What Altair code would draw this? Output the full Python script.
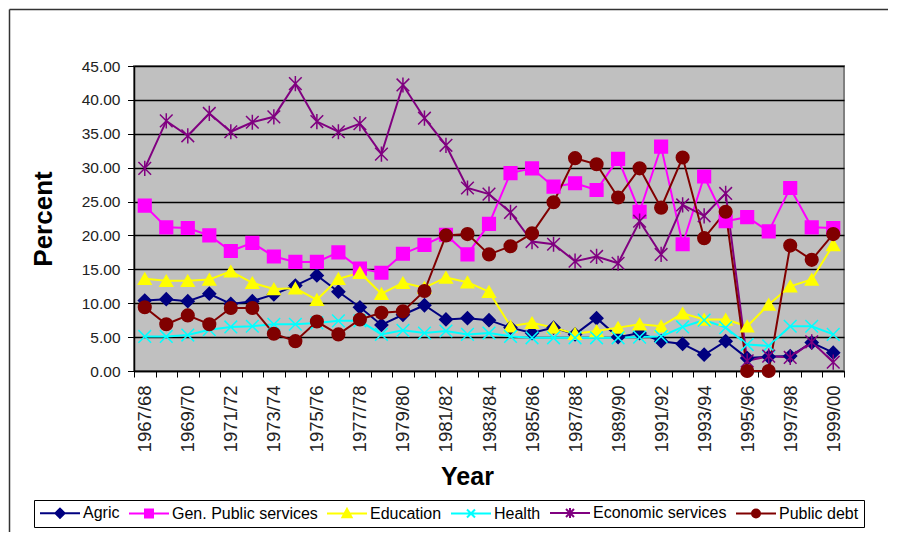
import altair as alt
import pandas as pd

years = ["1967/68", "1968/69", "1969/70", "1970/71", "1971/72", "1972/73", "1973/74",
         "1974/75", "1975/76", "1976/77", "1977/78", "1978/79", "1979/80", "1980/81",
         "1981/82", "1982/83", "1983/84", "1984/85", "1985/86", "1986/87", "1987/88",
         "1988/89", "1989/90", "1990/91", "1991/92", "1992/93", "1993/94", "1994/95",
         "1995/96", "1996/97", "1997/98", "1998/99", "1999/00"]

agric = [10.4, 10.6, 10.3, 11.4, 9.9, 10.3, 11.3, 12.6, 14.1, 11.7, 9.4, 6.8, 8.3, 9.7,
         7.6, 7.8, 7.5, 6.4, 5.6, 6.4, 5.4, 7.8, 5.0, 5.6, 4.4, 4.0, 2.4, 4.4, 1.9, 2.1,
         2.2, 4.2, 2.7]
gen_public = [24.4, 21.2, 21.1, 20.0, 17.7, 18.9, 16.9, 16.1, 16.1, 17.5, 15.1, 14.5,
              17.3, 18.6, 20.1, 17.2, 21.7, 29.2, 29.9, 27.2, 27.7, 26.7, 31.3, 23.5,
              33.1, 18.7, 28.7, 22.1, 22.7, 20.6, 27.0, 21.2, 21.1]
education = [13.6, 13.3, 13.3, 13.5, 14.7, 13.0, 12.1, 12.2, 10.5, 13.6, 14.5, 11.4,
             13.0, 12.3, 13.8, 13.1, 11.7, 6.6, 7.1, 6.4, 5.5, 5.9, 6.4, 6.9, 6.6, 8.5,
             7.6, 7.6, 6.6, 9.8, 12.5, 13.5, 18.6]
health = [5.1, 5.1, 5.3, 6.1, 6.5, 6.6, 6.9, 6.9, 7.1, 7.4, 7.4, 5.4, 6.0, 5.6, 5.9,
          5.4, 5.6, 5.1, 4.9, 4.9, 4.9, 4.9, 4.9, 5.0, 5.1, 6.5, 7.5, 6.4, 3.9, 3.7, 6.6,
          6.6, 5.4]
economic = [29.9, 36.9, 34.7, 38.0, 35.3, 36.7, 37.5, 42.4, 36.8, 35.3, 36.5, 32.0,
            42.2, 37.3, 33.3, 27.0, 26.1, 23.4, 19.1, 18.7, 16.2, 16.9, 15.9, 22.1,
            17.2, 24.5, 22.9, 26.2, 1.5, 2.2, 2.0, 4.3, 1.3]
public_debt = [9.4, 6.9, 8.2, 6.9, 9.3, 9.3, 5.5, 4.4, 7.3, 5.4, 7.6, 8.6, 8.8, 11.8,
               20.0, 20.2, 17.2, 18.4, 20.3, 24.9, 31.4, 30.5, 25.6, 29.9, 24.1, 31.5,
               19.6, 23.5, 0.0, 0.0, 18.5, 16.4, 20.2]

series_names = ["Agric", "Gen. Public services", "Education", "Health",
                "Economic services", "Public debt"]
series_values = [agric, gen_public, education, health, economic, public_debt]
colors = ["#000080", "#FF00FF", "#FFFF00", "#00FFFF", "#800080", "#800000"]

x_path = "M-1,-1L1,1M-1,1L1,-1"
star_path = "M-1,-1L1,1M-1,1L1,-1M0,-1.2L0,1.2"
marker_shapes = ["diamond", "square", "triangle-up", x_path, star_path, "circle"]

legend_line = "M-5,0L5,0"
legend_markers = [
    "M0,-1.15L1.15,0L0,1.15L-1.15,0Z",
    "M-1,-1L1,-1L1,1L-1,1Z",
    "M0,-1.15L1.15,0.95L-1.15,0.95Z",
    "M-1,-1L1,1M-1,1L1,-1",
    "M-1,-1L1,1M-1,1L1,-1M0,-1.25L0,1.25",
    "M1,0A1,1,0,1,1,-1,0A1,1,0,1,1,1,0Z",
]

rows = []
for name, vals in zip(series_names, series_values):
    for i, (yr, v) in enumerate(zip(years, vals)):
        rows.append({"idx": i, "year": yr, "series": name, "marker": name, "value": v})
df = pd.DataFrame(rows)

n = len(years)
tick_vals = [i - 0.5 for i in range(n + 1)]
year_arr = "[" + ",".join("'" + y + "'" for y in years) + "]"
label_expr = ("(datum.value + 0.5) % 2 == 0 && datum.value < " + str(n - 1) + ".6 ? "
              + year_arr + "[datum.value + 0.5] : ''")

shape_expr = ""
for name, mk in zip(series_names, legend_markers):
    shape_expr += "datum.value == '" + name + "' ? '" + legend_line + mk + "' : "
shape_expr += "'circle'"

FONT = "Liberation Sans"

band = 710 / n

x_enc = alt.X(
    "idx:Q",
    scale=alt.Scale(domain=[-0.5, n - 0.5], nice=False, zero=False),
    axis=alt.Axis(
        values=tick_vals, labelExpr=label_expr, labelAngle=270, labelOffset=band / 2,
        labelOverlap=False, labelFlush=False, labelFont=FONT, labelFontSize=18.5,
        labelColor="#222222", labelPadding=8, tickSize=6, tickColor="#000000",
        domainColor="#000000", domainWidth=1.5, grid=False,
        title="Year", titleFont=FONT, titleFontSize=25, titleFontWeight="bold",
        titleColor="#000000", titleX=333, titleY=105, titleBaseline="middle",
        titleAlign="center",
    ),
)
y_enc = alt.Y(
    "value:Q",
    scale=alt.Scale(domain=[0, 45], nice=False),
    axis=alt.Axis(
        values=list(range(0, 50, 5)), format=".2f", grid=True, gridColor="#000000",
        gridWidth=1.5, tickSize=6.5, tickColor="#000000", domainColor="#000000",
        domainWidth=1.5, labelFont=FONT, labelFontSize=15.5, labelColor="#222222",
        labelPadding=7.5, title="Percent", titleFont=FONT, titleFontSize=26,
        titleFontWeight="bold", titleColor="#000000", titleX=-91,
        titleBaseline="middle", titleAlign="center",
    ),
)

color_scale = alt.Scale(domain=series_names, range=colors)

lines = alt.Chart(df).mark_line(strokeWidth=2).encode(
    x=x_enc, y=y_enc,
    color=alt.Color(
        "series:N", scale=color_scale, sort=series_names, title=None,
        legend=alt.Legend(
            orient="none", legendX=-100, legendY=434, direction="horizontal",
            columns=6, strokeColor="#000000", fillColor="#FFFFFF", padding=5,
            labelFont=FONT, labelFontSize=16, labelColor="#000000", labelLimit=400,
            symbolSize=64, symbolStrokeWidth=2, symbolOffset=13, labelOffset=15,
            columnPadding=5,
            symbolType={"expr": shape_expr},
            symbolFillColor={"expr": "scale('color', datum.value)"},
            symbolStrokeColor={"expr": "scale('color', datum.value)"},
        ),
    ),
    detail="series:N",
)

points = alt.Chart(df).mark_point(filled=True, size=160, strokeWidth=1.5, opacity=1).encode(
    x=x_enc, y=y_enc,
    color=alt.Color("series:N", scale=color_scale, sort=series_names, title=None),
    stroke=alt.Stroke("marker:N",
                      scale=alt.Scale(domain=series_names[::-1], range=colors[::-1]),
                      legend=None),
    shape=alt.Shape("marker:N",
                    scale=alt.Scale(domain=series_names[::-1], range=marker_shapes[::-1]),
                    legend=None),
)

frame_df = pd.DataFrame({"k": [0]})
frame_left = alt.Chart(frame_df).mark_rule(color="#333333", strokeWidth=1.5).encode(
    x=alt.value(-124.5), y=alt.value(-56.5), y2=alt.value(466))
frame_top = alt.Chart(frame_df).mark_rule(color="#333333", strokeWidth=1.5).encode(
    x=alt.value(-124.5), x2=alt.value(754), y=alt.value(-56.5))

chart = alt.layer(frame_left, frame_top, lines, points).resolve_scale(
    shape="independent", stroke="independent"
).properties(
    width=710, height=305, padding=0, background="#FFFFFF"
).configure_view(
    fill="#C0C0C0", stroke="#808080", strokeWidth=2
)

chart.save("out.html", embed_options={"renderer": "svg", "actions": False})
